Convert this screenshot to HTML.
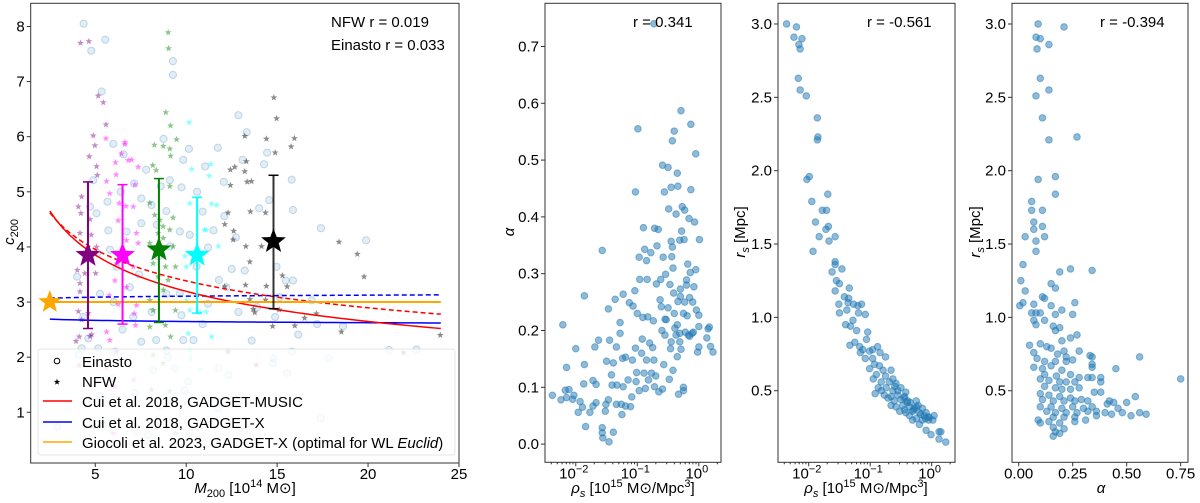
<!DOCTYPE html>
<html><head><meta charset="utf-8"><style>
html,body{margin:0;padding:0;background:#fff;}
svg{display:block;font-family:"Liberation Sans","DejaVu Sans",sans-serif;}
</style></head><body>
<svg id="fig" width="1200" height="503" viewBox="0 0 1200 503" xmlns="http://www.w3.org/2000/svg"></svg>
<script>
// ---------- Panel 1 data: M200 vs c200 ----------
const einastoPts = [[4.36,8.05],[4.78,7.56],[5.55,7.76],[9.27,7.37],[9.27,7.12],[5.35,6.82],[12.87,6.39],[13.33,6.08],[8.75,5.96],[5.99,5.87],[6.56,5.68],[10.15,5.78],[11.74,5.8],[9.84,5.58],[13.1,5.58],[14.28,5.5],[14.45,5.71],[11.04,5.46],[12.07,5.18],[15.8,5.22],[9.1,5.21],[7.14,5.15],[9.74,5.08],[4.89,5.21],[5.07,4.61],[5.67,4.82],[8.09,4.76],[7.53,4.88],[8.38,4.4],[8.91,4.65],[10.9,4.64],[12.1,4.56],[14.56,4.85],[14.01,4.7],[15.87,4.67],[17.41,4.34],[12.73,4.17],[19.89,4.12],[7.53,4.43],[6.72,4.28],[5.72,4.3],[4.71,4.73],[9.65,4.28],[10.2,4.22],[9.1,4.01],[11.2,3.99],[5.11,3.89],[5.81,3.95],[8.46,3.83],[6.17,3.64],[10.57,3.64],[14.97,3.64],[13.22,3.57],[15.87,3.39],[15.47,3.39],[5.26,3.15],[6.9,3.27],[8.91,3.15],[9.65,3.15],[11.2,2.97],[12.21,3.27],[15.15,3.09],[16.9,3.03],[7.09,2.73],[8.1,2.82],[9.74,2.76],[12.87,2.82],[13.9,2.91],[14.89,2.73],[16.16,2.41],[17.84,1.98],[18.62,2.56],[21.15,2.13],[22.66,2.14],[4.62,2.34],[5.16,2.16],[6.08,2.1],[7.53,2.28],[8.35,2.31],[8.91,2.12],[9.84,2.31],[10.4,2.31],[4.25,2.16],[5.95,1.62],[7.18,1.35],[8.18,1.77],[9.38,1.8],[10.11,1.56],[11.81,1.8],[12.32,1.68],[14.78,1.98],[14.78,1.89],[15.81,2.1],[15.55,1.71],[2.91,0.73],[7.27,0.65],[7.91,0.59],[10.2,0.62],[11.76,1.07],[13.19,0.65],[17.4,0.89],[5.44,0.75],[4.1,2.04],[4.0,3.46],[4.34,2.73],[6.4,5.0],[7.8,5.4],[8.6,5.1],[10.6,5.0],[11.5,4.3],[6.0,3.0],[7.4,3.5],[11.8,3.4],[12.5,3.6],[6.5,2.5],[9.0,2.0],[10.9,2.6],[13.6,2.3],[17.2,2.6],[5.3,1.3],[8.6,1.1],[9.9,1.4],[12.9,1.3]];
const nfwPurple = [[4.19,7.7],[4.65,7.73],[5.16,6.74],[5.44,6.62],[5.59,6.22],[4.89,6.02],[4.98,5.84],[4.67,5.64],[5.07,5.46],[5.11,5.3],[4.25,4.91],[4.07,4.73],[4.21,4.61],[4.71,4.5],[4.16,4.25],[4.78,4.22],[5.07,4.0],[4.01,3.58],[4.16,3.34],[4.16,3.19],[4.43,3.52],[5.02,3.52],[4.07,2.83],[4.25,2.68],[4.62,2.8],[4.8,2.41],[4.71,2.38],[4.12,2.37],[4.12,1.85],[3.94,2.29],[4.8,0.74]];
const nfwMagenta = [[5.59,5.97],[6.63,5.9],[6.63,5.86],[6.44,5.69],[6.11,5.53],[6.81,5.57],[7.0,5.58],[7.36,5.45],[5.62,5.19],[6.15,5.31],[7.18,5.13],[5.8,4.97],[6.32,4.79],[6.68,4.74],[7.09,4.73],[6.26,4.48],[6.72,4.12],[7.27,4.25],[7.36,4.07],[6.2,3.7],[7.09,3.64],[6.08,3.39],[6.72,3.27],[5.77,3.12],[6.26,2.96],[7.27,2.94],[7.14,2.79],[7.21,2.58],[5.62,2.46],[5.8,2.31],[6.17,2.1],[5.62,1.8],[6.08,1.47],[7.12,1.59],[5.99,0.62]];
const nfwGreen = [[9.01,7.89],[9.03,7.6],[8.88,6.44],[9.14,6.2],[9.1,5.78],[9.14,5.65],[9.47,5.95],[8.74,5.83],[8.25,5.85],[8.16,5.48],[8.35,5.39],[9.1,5.1],[9.28,4.53],[8.0,4.8],[8.27,4.58],[8.55,4.49],[8.73,4.37],[9.1,4.31],[8.46,4.25],[8.74,4.16],[8.0,4.07],[9.28,4.01],[8.18,3.7],[8.86,3.64],[9.41,3.64],[8.46,3.46],[9.01,3.4],[8.74,3.22],[8.0,3.03],[8.18,2.85],[9.41,2.85],[8.86,2.58],[9.14,2.37],[8.0,2.55],[8.18,2.04],[8.73,1.89],[9.1,1.38],[8.09,1.41],[9.41,0.62]];
const nfwCyan = [[10.17,6.26],[10.31,5.41],[11.35,5.5],[11.27,5.29],[10.2,4.79],[11.41,4.78],[11.68,4.76],[11.0,4.31],[11.77,4.01],[9.93,3.83],[11.1,4.31],[10.02,3.03],[10.76,2.82],[11.1,2.82],[10.2,2.85],[11.4,2.37],[10.2,2.12],[10.24,1.97],[10.76,1.78],[10.11,2.43],[10.0,3.64]];
const nfwBlack = [[14.82,6.71],[14.97,6.33],[13.22,6.01],[14.41,5.96],[15.95,5.97],[15.77,5.82],[14.89,5.71],[12.67,5.45],[12.43,5.4],[13.31,5.55],[13.22,5.37],[13.35,5.18],[13.59,5.19],[12.43,5.12],[12.3,4.62],[13.53,4.64],[14.36,4.62],[12.12,4.41],[12.61,4.29],[12.58,4.13],[13.28,4.01],[14.14,4.01],[13.5,3.73],[18.4,4.09],[19.41,3.87],[19.78,3.46],[15.29,3.48],[15.55,3.28],[14.41,3.29],[13.26,3.31],[12.12,3.28],[13.5,3.05],[14.36,3.04],[15.11,2.86],[13.68,2.87],[13.77,2.81],[14.75,2.56],[15.97,2.57],[16.51,2.71],[17.16,2.79],[18.53,2.46],[23.97,2.4],[21.95,2.08],[12.3,2.1],[13.86,1.86]];
const binMass = [4.6, 6.5, 8.5, 10.6, 14.8];
const binC = [3.85, 3.85, 3.95, 3.85, 4.1];
const binLo = [2.52, 2.6, 2.63, 2.8, 2.88];
const binHi = [5.18, 5.13, 5.24, 4.9, 5.3];
const binColors = ['#800080','#ff00ff','#008000','#00ffff','#000000'];
const giocoliC = [3.0];
const cuiXconst = [2.69, 2.62];
const cuiXdash = [3.07, 3.13];
const cuiMusic = [4.65, 2.52];
const cuiMusicDash = [4.62, 2.78];
const modelMassRange = [2.5, 24];
// ---------- Panel 2: rho_s (log10) vs alpha ----------
const p2LogRho = [-2.38,-2.24,-2.21,-2.17,-2.15,-2.11,-2.15,-2.05,-2.03,-2.0,-1.96,-1.93,-1.89,-1.87,-1.86,-1.86,-1.84,-1.77,-1.72,-1.72,-1.69,-1.67,-1.67,-1.63,-1.57,-1.57,-1.56,-1.57,-1.52,-1.51,-1.5,-1.47,-1.47,-1.46,-1.45,-1.42,-1.41,-1.39,-1.39,-1.36,-1.34,-1.34,-1.33,-1.28,-1.28,-1.26,-1.25,-1.24,-1.23,-1.23,-1.19,-1.19,-1.15,-1.13,-1.11,-1.09,-1.08,-1.07,-1.04,-1.03,-1.02,-1.01,-1.0,-1.03,-0.99,-0.97,-0.97,-0.96,-0.93,-0.92,-0.91,-0.9,-0.89,-0.88,-0.87,-0.85,-0.85,-0.84,-0.83,-0.82,-0.8,-0.78,-0.77,-0.75,-0.74,-0.73,-0.72,-0.72,-0.69,-0.68,-0.66,-0.65,-0.63,-0.61,-0.59,-0.59,-0.58,-0.57,-0.56,-0.55,-0.54,-0.53,-0.5,-0.49,-0.48,-0.47,-0.46,-0.45,-0.45,-0.44,-0.43,-0.43,-0.42,-0.41,-0.4,-0.39,-0.37,-0.37,-0.35,-0.35,-0.34,-0.34,-0.33,-0.31,-0.31,-0.31,-0.3,-0.29,-0.28,-0.27,-0.25,-0.25,-0.24,-0.23,-0.23,-0.22,-0.2,-0.19,-0.18,-0.17,-0.16,-0.15,-0.14,-0.13,-0.11,-0.1,-0.09,-0.08,-0.07,-0.05,-0.04,-0.02,0.0,0.01,0.0,-0.05,-0.13,-0.29,-0.4,0.0,0.13,0.15,0.17,0.19,0.23,-0.73,-0.6,-0.55,-0.45,-0.35,-0.25,-0.15,-0.7,-0.5,-0.3,-0.2,-0.62,-0.42];
const p2Alpha = [0.086,0.078,0.21,0.095,0.135,0.096,0.082,0.079,0.086,0.168,0.056,0.075,0.065,0.106,0.14,0.261,0.031,0.056,0.112,0.067,0.171,0.073,0.105,0.183,0.029,0.02,0.011,0.341,0.058,0.07,0.146,0.078,0.238,0.004,0.183,0.122,0.104,0.021,0.143,0.255,0.07,0.171,0.104,0.214,0.195,0.07,0.052,0.151,0.264,0.101,0.153,0.067,0.113,0.249,0.066,0.083,0.148,0.243,0.27,0.169,0.11,0.126,0.23,0.444,0.555,0.094,0.329,0.29,0.16,0.185,0.223,0.381,0.125,0.343,0.098,0.323,0.148,0.29,0.224,0.113,0.178,0.337,0.125,0.17,0.217,0.148,0.38,0.101,0.282,0.349,0.378,0.092,0.254,0.242,0.491,0.097,0.329,0.14,0.444,0.192,0.299,0.219,0.487,0.414,0.114,0.281,0.168,0.452,0.357,0.33,0.534,0.347,0.13,0.266,0.23,0.204,0.192,0.405,0.154,0.477,0.454,0.251,0.088,0.359,0.18,0.195,0.273,0.167,0.375,0.418,0.094,0.1,0.36,0.25,0.412,0.197,0.289,0.226,0.317,0.192,0.397,0.258,0.302,0.448,0.195,0.25,0.197,0.277,0.391,0.307,0.236,0.162,0.207,0.36,0.171,0.511,0.563,0.587,0.551,0.227,0.187,0.203,0.206,0.172,0.162,0.74,0.2,0.22,0.18,0.21,0.23,0.19,0.12,0.24,0.26,0.28,0.29,0.31];
// ---------- Panel 3: rho_s (log10) vs r_s ----------
const p3LogRho = [-2.36,-2.2,-2.24,-2.16,-2.14,-2.11,-2.17,-2.14,-2.04,-1.86,-1.85,-1.86,-2.03,-1.99,-1.95,-1.69,-1.78,-1.71,-1.89,-1.68,-1.72,-1.83,-1.57,-1.67,-1.93,-1.57,-1.62,-1.57,-1.46,-1.55,-1.5,-1.34,-1.57,-1.42,-1.36,-1.51,-1.35,-1.27,-1.2,-1.14,-1.5,-1.38,-1.28,-1.19,-1.08,-1.4,-1.32,-1.22,-1.04,-1.33,-1.25,-1.17,-1.06,-1.12,-0.96,-0.88,-1.01,-1.16,-1.08,-0.96,-0.84,-0.75,-0.93,-1.01,-0.85,-0.79,-0.66,-0.9,-0.75,-0.63,-0.95,-0.82,-0.69,-0.58,-0.87,-0.74,-0.63,-0.5,-0.42,-0.92,-0.77,-0.66,-0.55,-0.44,-0.61,-0.5,-0.39,-0.25,-0.58,-0.47,-0.36,-0.25,-0.15,-0.52,-0.42,-0.31,-0.2,-0.09,-0.04,-0.36,-0.25,-0.15,0.02,-0.44,-0.66,-0.71,-0.82,-0.09,-0.01,0.12,0.15,0.12,0.23,-0.06,-0.2,-0.31,0.04,-0.55,-0.45,-0.35,-0.28,-0.18,-0.1,-0.6,-0.4,-0.3,-0.22,-0.12,-0.05];
const p3Rs = [3.0,2.98,2.91,2.86,2.83,2.9,2.63,2.55,2.51,2.36,2.23,2.21,1.94,1.96,1.79,1.84,1.73,1.73,1.65,1.62,1.6,1.55,1.55,1.52,1.45,1.38,1.31,1.36,1.33,1.25,1.23,1.2,1.18,1.14,1.1,1.09,1.13,1.09,1.08,1.09,1.03,1.05,0.98,1.03,1.02,0.95,0.94,0.91,0.9,0.81,0.83,0.8,0.85,0.78,0.78,0.8,0.77,0.76,0.72,0.72,0.76,0.73,0.68,0.65,0.67,0.64,0.64,0.61,0.6,0.58,0.58,0.56,0.56,0.55,0.52,0.52,0.5,0.52,0.49,0.48,0.47,0.46,0.47,0.46,0.43,0.44,0.43,0.43,0.39,0.4,0.39,0.39,0.38,0.36,0.35,0.36,0.35,0.35,0.32,0.33,0.31,0.3,0.3,0.37,0.4,0.45,0.5,0.23,0.2,0.22,0.22,0.17,0.15,0.32,0.27,0.3,0.33,0.5,0.45,0.42,0.38,0.34,0.31,0.53,0.42,0.37,0.4,0.33,0.3];
// ---------- Panel 4: alpha vs r_s ----------
const p4Alpha = [0.09,0.21,0.08,0.1,0.14,0.085,0.1,0.14,0.08,0.11,0.27,0.14,0.17,0.09,0.17,0.06,0.06,0.11,0.07,0.11,0.07,0.03,0.12,0.08,0.08,0.02,0.24,0.34,0.19,0.01,0.15,0.17,0.03,0.11,0.12,0.26,0.02,0.005,0.07,0.15,0.2,0.17,0.25,0.06,0.08,0.1,0.07,0.12,0.08,0.16,0.19,0.17,0.27,0.24,0.2,0.05,0.1,0.13,0.21,0.15,0.28,0.07,0.18,0.22,0.33,0.34,0.085,0.12,0.17,0.22,0.25,0.56,0.34,0.15,0.07,0.11,0.2,0.34,0.45,0.12,0.175,0.24,0.28,0.32,0.34,0.38,0.75,0.1,0.14,0.19,0.22,0.26,0.38,0.12,0.17,0.2,0.24,0.28,0.35,0.38,0.1,0.14,0.19,0.24,0.29,0.54,0.11,0.16,0.21,0.26,0.32,0.42,0.44,0.5,0.41,0.1,0.15,0.2,0.25,0.3,0.34,0.46,0.13,0.17,0.22,0.27,0.32,0.36,0.4,0.48,0.56,0.59,0.16,0.21,0.26,0.36,0.52,0.09,0.14,0.19,0.26,0.31,0.1,0.16,0.21,0.17,0.16,0.19,0.43];
const p4Rs = [3.0,2.98,2.91,2.9,2.86,2.83,2.63,2.55,2.51,2.36,2.23,2.21,1.96,1.94,1.84,1.79,1.73,1.73,1.65,1.62,1.6,1.55,1.55,1.52,1.45,1.36,1.33,1.32,1.31,1.25,1.23,1.2,1.18,1.14,1.13,1.1,1.1,1.08,1.09,1.08,1.05,1.02,1.02,1.03,1.03,1.03,0.98,0.98,0.95,0.94,0.93,0.91,0.88,0.86,0.84,0.81,0.82,0.8,0.77,0.79,0.77,0.76,0.75,0.73,0.74,0.73,0.72,0.7,0.7,0.7,0.71,0.73,0.68,0.67,0.66,0.65,0.64,0.66,0.65,0.61,0.6,0.61,0.59,0.59,0.59,0.59,0.58,0.58,0.57,0.56,0.56,0.56,0.56,0.53,0.52,0.51,0.51,0.52,0.49,0.49,0.48,0.47,0.46,0.45,0.44,0.46,0.44,0.43,0.43,0.43,0.43,0.43,0.42,0.42,0.41,0.39,0.39,0.38,0.39,0.38,0.39,0.38,0.36,0.35,0.35,0.35,0.36,0.36,0.35,0.35,0.35,0.34,0.32,0.32,0.32,0.33,0.33,0.3,0.29,0.28,0.29,0.3,0.28,0.25,0.24,0.22,0.19,0.21,0.34];

const NS='http://www.w3.org/2000/svg';
const svg=document.getElementById('fig');
function mk(tag,attrs,parent,text){const e=document.createElementNS(NS,tag);for(const k in attrs)e.setAttribute(k,attrs[k]);if(text!==undefined)e.textContent=text;(parent||svg).appendChild(e);return e;}
function axisLin(d0,d1,p0,p1){return v=>p0+(v-d0)/(d1-d0)*(p1-p0);}
function starPath(cx,cy,R){const r=R*0.42;let d='';for(let i=0;i<10;i++){const a=-Math.PI/2+i*Math.PI/5;const rr=i%2?r:R;d+=(i?'L':'M')+(cx+rr*Math.cos(a)).toFixed(2)+','+(cy+rr*Math.sin(a)).toFixed(2);}return d+'Z';}

function frame(g,L,T,R,B){const f=mk('rect',{x:L,y:T,width:R-L,height:B-T,fill:'none',stroke:'#333','stroke-width':1},g);}
function yTicks(g,L,vals,labels,ys){vals.forEach((v,i)=>{const y=ys(v);mk('line',{x1:L-4,x2:L,y1:y,y2:y,stroke:'#333'},g);const t=mk('text',{x:L-6,y:y+5,'text-anchor':'end','font-size':15,fill:'#000'},g,labels[i]);});}
function xTicks(g,B,vals,labels,xs){vals.forEach((v,i)=>{const x=xs(v);mk('line',{x1:x,x2:x,y1:B,y2:B+4,stroke:'#333'},g);const t=mk('text',{x:x,y:B+16,'text-anchor':'middle','font-size':15,fill:'#000'},g,labels[i]);});}
function logXTicks(g,B,L,R,xs,d0,d1){for(let e=Math.floor(d0);e<=Math.ceil(d1);e++){for(let m=1;m<10;m++){const lv=e+Math.log10(m);const x=xs(lv);if(x<L||x>R)continue;mk('line',{x1:x,x2:x,y1:B,y2:B+(m===1?4:2),stroke:'#333'},g);if(m===1){const t=mk('text',{x:x-2,y:B+16,'text-anchor':'middle','font-size':15},g);t.appendChild(document.createTextNode('10'));mk('tspan',{dy:-6,'font-size':11},t,String(e).replace('-','\u2212'));}}}}

// ================= Panel 1 =================
const g1=mk('g',{});
const L1=30.7,R1=459,T1=3.3,B1=463;
const x1=axisLin(1.45,25,L1,R1), y1=axisLin(0.08,8.42,B1,T1);
const cp=mk('clipPath',{id:'c1'},g1);mk('rect',{x:L1,y:T1,width:R1-L1,height:B1-T1},cp);
const d1=mk('g',{'clip-path':'url(#c1)'},g1);
einastoPts.forEach(p=>{const c=mk('circle',{cx:x1(p[0]),cy:y1(p[1]),r:3.6,fill:'#1f77b4','fill-opacity':0.13,stroke:'#1f77b4','stroke-opacity':0.25,'stroke-width':1},d1);});
[[nfwPurple,'#800080'],[nfwMagenta,'#ff00ff'],[nfwGreen,'#008000'],[nfwCyan,'#00ffff'],[nfwBlack,'#000000']].forEach(([arr,col])=>{arr.forEach(p=>{const s=mk('path',{d:starPath(x1(p[0]),y1(p[1]),3.6),fill:col,'fill-opacity':0.45},d1);});});
function powerCurve(vals,dash,col,name){const b=Math.log(vals[1]/vals[0])/Math.log(modelMassRange[1]/modelMassRange[0]);let d='';for(let i=0;i<=60;i++){const m=modelMassRange[0]+(modelMassRange[1]-modelMassRange[0])*i/60;const c=vals[0]*Math.pow(m/modelMassRange[0],b);d+=(i?'L':'M')+x1(m).toFixed(2)+','+y1(c).toFixed(2);}const p=mk('path',{d:d,fill:'none',stroke:col,'stroke-width':1.5,'stroke-dasharray':dash||''},d1);}
powerCurve(cuiXconst,'', '#0000ff','cui-gadget-x-line');
powerCurve(cuiXdash,'5,3','#0000ff','cui-gadget-x-dashed-line');
powerCurve(cuiMusic,'','#ff0000','cui-gadget-music-line');
powerCurve(cuiMusicDash,'5,3','#ff0000','cui-gadget-music-dashed-line');
const gl=mk('line',{x1:x1(modelMassRange[0]),x2:x1(modelMassRange[1]),y1:y1(giocoliC[0]),y2:y1(giocoliC[0]),stroke:'#ffa500','stroke-width':2},d1);

binMass.forEach((m,i)=>{const x=x1(m),col=binColors[i];const eb=mk('g',{},g1);
mk('line',{x1:x,x2:x,y1:y1(binLo[i]),y2:y1(binHi[i]),stroke:col,'stroke-width':2,'stroke-opacity':i===4?0.8:1},eb);
[binLo[i],binHi[i]].forEach(v=>mk('line',{x1:x-5,x2:x+5,y1:y1(v),y2:y1(v),stroke:col,'stroke-width':1.5},eb));
const s=mk('path',{d:starPath(x,y1(binC[i]),13),fill:col},eb);});
const os=mk('path',{d:starPath(x1(modelMassRange[0]),y1(giocoliC[0]),12),fill:'#ffa500'},g1);
const lg=mk('g',{},g1);
mk('rect',{x:38,y:349,width:417,height:106,rx:3,fill:'#fff','fill-opacity':0.8,stroke:'#ddd','stroke-opacity':0.8},lg);
mk('circle',{cx:57,cy:361,r:2.8,fill:'none',stroke:'#000'},lg);mk('text',{x:82,y:367,'font-size':15},lg,'Einasto');
mk('path',{d:starPath(57,382,3.3),fill:'#000'},lg);mk('text',{x:82,y:387,'font-size':15},lg,'NFW');
[['#ff0000','Cui et al. 2018, GADGET-MUSIC',401],['#0000ff','Cui et al. 2018, GADGET-X',422]].forEach(([c,t,y])=>{mk('line',{x1:43,x2:72,y1:y,y2:y,stroke:c,'stroke-width':1.5},lg);const tx=mk('text',{x:82,y:y+6,'font-size':15},lg,t);});
mk('line',{x1:43,x2:72,y1:442,y2:442,stroke:'#ffa500','stroke-width':1.5},lg);
const gt=mk('text',{x:82,y:448,'font-size':15},lg,'Giocoli et al. 2023, GADGET-X (optimal for WL ');mk('tspan',{'font-style':'italic'},gt,'Euclid');mk('tspan',{},gt,')');
frame(g1,L1,T1,R1,B1);
yTicks(g1,L1,[1,2,3,4,5,6,7,8],['1','2','3','4','5','6','7','8'],y1);
xTicks(g1,B1,[5,10,15,20,25],['5','10','15','20','25'],x1);
const a1=mk('text',{x:331,y:27,'font-size':15},g1,'NFW r = 0.019');
const a2=mk('text',{x:331,y:50,'font-size':15},g1,'Einasto r = 0.033');
const yl1=mk('text',{transform:'translate(14,232) rotate(-90)','text-anchor':'middle','font-size':15,'font-style':'italic'},g1,'c');mk('tspan',{dy:4,'font-size':11,'font-style':'normal'},yl1,'200');
const xl1=mk('text',{x:245,y:493,'text-anchor':'middle','font-size':15},g1);
mk('tspan',{'font-style':'italic'},xl1,'M');mk('tspan',{dy:4,'font-size':11},xl1,'200');mk('tspan',{dy:-4},xl1,' [10');mk('tspan',{dy:-6,'font-size':11},xl1,'14');mk('tspan',{dy:6},xl1,' M⊙]');

// ================= Scatter panels =================
function scatterPanel(name,L,R,xd,yd,xs,ysArr){const g=mk('g',{});
const T=3.3,B=462.3;const xf=axisLin(xd[0],xd[1],L,R),yf=axisLin(yd[0],yd[1],B,T);
xs.forEach((v,i)=>{const c=mk('circle',{cx:xf(v),cy:yf(ysArr[i]),r:3.3,fill:'#1f77b4','fill-opacity':0.5,stroke:'#1f77b4','stroke-opacity':0.5},g);});
frame(g,L,T,R,B);return {g,xf,yf,B,L,R};}

const P2=scatterPanel('alpha-vs-rho-panel',545,721,[-2.5,0.36],[-0.032,0.776],p2LogRho,p2Alpha);
yTicks(P2.g,545,[0,0.1,0.2,0.3,0.4,0.5,0.6,0.7],['0.0','0.1','0.2','0.3','0.4','0.5','0.6','0.7'],P2.yf);
logXTicks(P2.g,P2.B,545,721,P2.xf,-2.5,0.36);
mk('text',{x:633,y:27,'font-size':15},P2.g,'r = 0.341');
const P3=scatterPanel('rs-vs-rho-panel',778,955,[-2.5,0.38],[0.012,3.141],p3LogRho,p3Rs);
yTicks(P3.g,778,[0.5,1,1.5,2,2.5,3],['0.5','1.0','1.5','2.0','2.5','3.0'],P3.yf);
logXTicks(P3.g,P3.B,778,955,P3.xf,-2.5,0.38);
mk('text',{x:867,y:27,'font-size':15},P3.g,'r = -0.561');
const P4=scatterPanel('rs-vs-alpha-panel',1012,1188,[-0.031,0.784],[0.012,3.141],p4Alpha,p4Rs);
yTicks(P4.g,1012,[0.5,1,1.5,2,2.5,3],['0.5','1.0','1.5','2.0','2.5','3.0'],P4.yf);
xTicks(P4.g,P4.B,[0,0.25,0.5,0.75],['0.00','0.25','0.50','0.75'],P4.xf);
mk('text',{x:1100,y:27,'font-size':15},P4.g,'r = -0.394');

function rhoLabel(cx){const t=mk('text',{x:cx,y:493,'text-anchor':'middle','font-size':15});mk('tspan',{'font-style':'italic'},t,'ρ');mk('tspan',{dy:4,'font-size':11,'font-style':'italic'},t,'s');mk('tspan',{dy:-4},t,' [10');mk('tspan',{dy:-6,'font-size':11},t,'15');mk('tspan',{dy:6},t,' M⊙/Mpc');mk('tspan',{dy:-6,'font-size':11},t,'3');mk('tspan',{dy:6},t,']');}
rhoLabel(633);rhoLabel(866);
const al=mk('text',{x:1101,y:493,'text-anchor':'middle','font-size':15,'font-style':'italic'},svg,'α');
const ya2=mk('text',{transform:'translate(514,232) rotate(-90)','text-anchor':'middle','font-size':15,'font-style':'italic'},svg,'α');
[745,980].forEach(x=>{const t=mk('text',{transform:'translate('+x+',232) rotate(-90)','text-anchor':'middle','font-size':15});mk('tspan',{'font-style':'italic'},t,'r');mk('tspan',{dy:4,'font-size':11,'font-style':'italic'},t,'s');mk('tspan',{dy:-4},t,' [Mpc]');});
</script>
</body></html>
